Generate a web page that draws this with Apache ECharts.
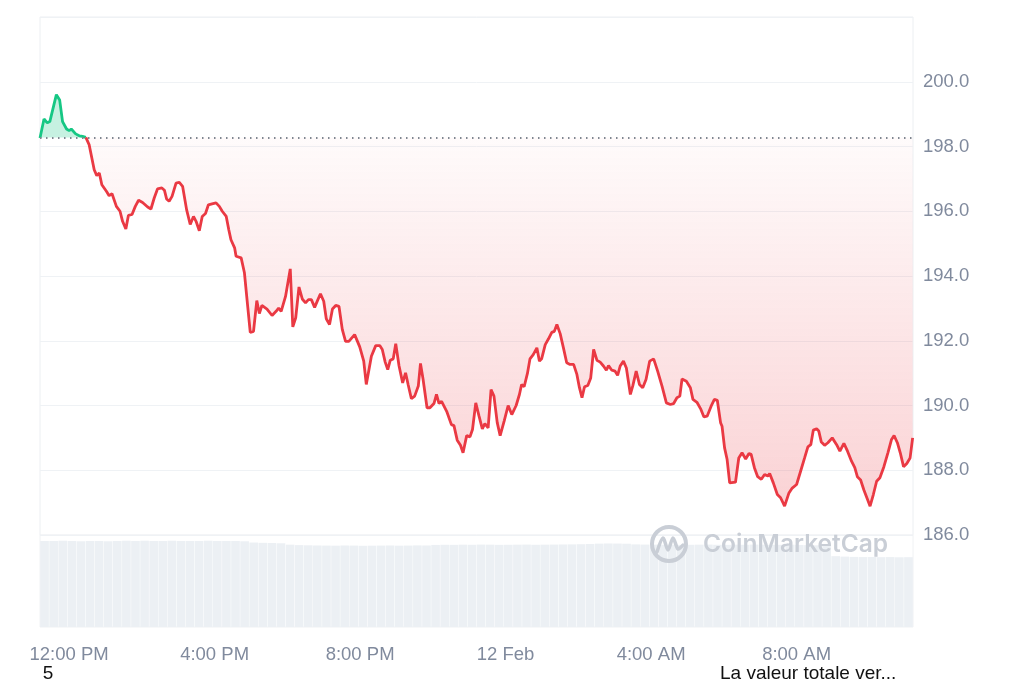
<!DOCTYPE html>
<html>
<head>
<meta charset="utf-8">
<script src="https://cdn.jsdelivr.net/npm/echarts@6/dist/echarts.min.js"></script>
<style>
html,body{margin:0;padding:0;background:#fff;}
#chart{width:1024px;height:683px;}
</style>
</head>
<body>
<div id="chart"></div>
<script>
// hours after 12:00 PM (11 Feb)
const priceTimes = [
-0.80,-0.69,-0.60,-0.53,-0.35,-0.26,-0.18,-0.07,0.00,0.06,0.18,0.28,0.37,0.46,
0.55,0.69,0.76,0.83,0.90,1.03,1.10,1.18,1.30,1.40,1.47,1.56,1.63,1.73,1.82,1.91,
2.02,2.16,2.25,2.34,2.43,2.55,2.62,2.68,2.75,2.83,2.94,3.03,3.12,3.23,3.33,3.42,
3.49,3.58,3.66,3.75,3.83,3.93,4.04,4.13,4.21,4.32,4.39,4.45,4.55,4.59,4.73,4.82,
4.91,4.98,5.07,5.16,5.23,5.30,5.44,5.58,5.69,5.76,5.83,5.95,6.08,6.15,6.23,6.32,
6.41,6.50,6.58,6.66,6.75,6.84,6.91,7.00,7.07,7.16,7.24,7.33,7.42,7.51,7.60,7.69,
7.85,7.99,8.10,8.17,8.31,8.43,8.54,8.61,8.69,8.76,8.83,8.91,8.98,9.07,9.17,9.25,
9.32,9.41,9.50,9.60,9.66,9.73,9.84,9.92,10.03,10.10,10.17,10.24,10.38,10.51,10.58,
10.67,10.76,10.83,10.93,11.02,11.09,11.18,11.27,11.36,11.43,11.52,11.60,11.68,11.77,
11.85,11.96,12.07,12.17,12.29,12.38,12.44,12.51,12.60,12.67,12.76,12.86,12.93,12.99,
13.09,13.18,13.27,13.34,13.41,13.50,13.59,13.68,13.77,13.87,13.96,14.03,14.10,14.17,
14.26,14.34,14.42,14.51,14.60,14.69,14.77,14.83,14.92,15.01,15.08,15.15,15.24,15.32,
15.43,15.50,15.59,15.68,15.77,15.86,15.96,16.07,16.18,16.30,16.42,16.53,16.62,16.71,
16.79,16.85,16.97,17.08,17.15,17.26,17.37,17.45,17.54,17.65,17.74,17.82,17.91,17.95,
18.02,18.09,18.16,18.32,18.41,18.50,18.60,18.69,18.75,18.84,18.93,19.03,19.12,19.21,
19.26,19.36,19.47,19.56,19.67,19.79,19.88,20.00,20.11,20.22,20.31,20.39,20.46,20.55,
20.61,20.68,20.77,20.86,20.98,21.10,21.19,21.30,21.40,21.51,21.60,21.67,21.76,21.85,
21.95,22.02,22.11,22.20,22.29,22.40,22.51,22.61,22.68,22.77,22.85,22.94,23.03,23.12,23.19
];
const priceValues = [
198.26,198.85,198.73,198.77,199.60,199.44,198.77,198.54,198.49,198.54,198.39,198.33,198.31,198.28,
198.06,197.28,197.10,197.18,196.82,196.61,196.48,196.54,196.15,196.00,195.69,195.45,195.87,195.90,196.15,196.34,
196.27,196.13,196.07,196.41,196.69,196.72,196.65,196.38,196.31,196.46,196.87,196.89,196.77,196.05,195.59,195.84,
195.69,195.40,195.84,195.93,196.20,196.23,196.26,196.15,196.00,195.84,195.43,195.12,194.87,194.61,194.56,194.10,
193.06,192.26,192.29,193.24,192.84,193.09,192.98,192.78,192.91,193.01,192.91,193.37,194.22,192.43,192.71,193.66,
193.29,193.17,193.27,193.27,193.03,193.27,193.45,193.22,192.68,192.50,192.98,193.09,193.06,192.35,191.98,191.98,
192.19,191.81,191.37,190.65,191.52,191.85,191.85,191.73,191.34,191.11,191.40,191.44,191.91,191.23,190.70,191.01,
190.65,190.21,190.29,190.60,191.30,190.82,189.93,189.93,190.06,190.34,190.06,190.13,189.82,189.41,189.38,
188.93,188.77,188.54,189.07,189.03,189.26,190.08,189.67,189.28,189.44,189.31,190.49,190.29,189.47,
189.07,189.52,190.00,189.72,190.00,190.34,190.65,190.58,190.99,191.44,191.57,191.78,191.37,191.44,
191.88,192.06,192.26,192.29,192.50,192.22,191.78,191.32,191.27,191.27,190.96,190.55,190.24,190.58,
190.62,190.85,191.73,191.40,191.34,191.22,191.09,191.23,191.09,191.06,190.93,191.22,191.37,191.16,
190.34,190.62,191.06,190.65,190.55,190.80,191.37,191.44,191.06,190.60,190.08,190.03,190.06,190.24,
190.29,190.82,190.75,190.55,190.19,190.10,189.88,189.65,189.67,189.98,190.19,190.16,189.47,189.36,
188.69,188.33,187.61,187.63,188.38,188.54,188.35,188.52,188.49,188.08,187.80,187.72,187.87,187.82,
187.90,187.61,187.25,187.15,186.89,187.30,187.45,187.56,187.97,188.38,188.72,188.79,189.24,189.28,
189.21,188.87,188.77,188.85,189.00,188.79,188.59,188.83,188.59,188.28,188.08,187.80,187.70,187.39,
187.10,186.89,187.25,187.66,187.77,188.11,188.54,188.95,189.07,188.85,188.54,188.11,188.21,188.38,189.00
];
const openPrice = 198.28;
const crossIndex = 13; // first index where price falls back to the open level

const volumeValues = [
93.6,93.4,93.7,93.5,93.3,93.6,93.4,93.2,
93.5,93.7,93.6,93.8,93.5,93.6,93.7,93.4,93.6,93.5,93.7,93.6,93.4,93.5,93.2,
91.8,91.5,91.3,91.0,
89.5,89.0,88.8,88.6,88.5,88.4,88.6,88.5,88.3,88.4,88.5,88.6,88.4,88.5,88.7,88.6,
89.2,89.4,89.3,89.5,89.4,89.6,89.5,89.3,89.4,89.5,89.6,89.4,89.5,89.6,89.7,89.8,90.0,90.2,
90.6,90.8,90.7,90.5,
89.8,89.6,89.5,89.4,89.5,89.3,89.4,89.5,89.6,89.4,89.3,89.5,89.4,89.6,89.5,89.3,89.4,89.5,89.2,89.0,88.8,88.5,
77.0,76.5,76.2,76.0,76.1,75.9,76.0,75.8,75.9
];
const volumeSlots = volumeValues.map((v, i) => 'slot' + i);

const xTickHours = [0, 4, 8, 12, 16, 20];
const xTickLabels = ['12:00 PM', '4:00 PM', '8:00 PM', '12 Feb', '4:00 AM', '8:00 AM'];
const xStart = -0.8, xEnd = 23.2;

const greenData = priceTimes.slice(0, crossIndex + 1).map((t, i) => [t, priceValues[i]]);
const redData = priceTimes.slice(crossIndex).map((t, i) => [t, priceValues[i + crossIndex]]);

const chart = echarts.init(document.getElementById('chart'), null, {renderer: 'canvas'});
const labelFont = {color: '#808a9d', fontSize: 18.5, fontFamily: 'Liberation Sans, Arial, sans-serif'};

chart.setOption({
  animation: false,
  grid: [
    {left: 40, right: 111, top: 17, bottom: 148, show: true, borderColor: '#eceff2', borderWidth: 1},
    {left: 40, right: 111, top: 535, bottom: 56, show: true, borderColor: '#f0f2f4', borderWidth: 1}
  ],
  xAxis: [
    {type: 'value', gridIndex: 0, min: xStart, max: xEnd, show: false},
    {type: 'category', gridIndex: 1, data: volumeSlots, show: false, boundaryGap: true},
    {type: 'value', gridIndex: 1, min: xStart, max: xEnd, position: 'bottom',
      axisLine: {show: false}, axisTick: {show: false}, splitLine: {show: false},
      axisLabel: Object.assign({
        customValues: xTickHours, margin: 18,
        formatter: v => { const i = xTickHours.indexOf(Math.round(v)); return i >= 0 ? xTickLabels[i] : ''; }
      }, labelFont)}
  ],
  yAxis: [
    {type: 'value', gridIndex: 0, position: 'right', min: 186, max: 202, interval: 2,
      axisLine: {show: false}, axisTick: {show: false},
      splitLine: {lineStyle: {color: '#eff2f5', width: 1}},
      axisLabel: Object.assign({margin: 10, showMaxLabel: false,
        formatter: v => v > 200.5 ? '' : v.toFixed(1)}, labelFont)},
    {type: 'value', gridIndex: 1, min: 0, max: 100, show: false}
  ],
  series: [
    {
      type: 'bar', xAxisIndex: 1, yAxisIndex: 1, data: volumeValues,
      barCategoryGap: '5%', itemStyle: {color: '#ecf0f4'}, silent: true, z: 1
    },
    {
      type: 'line', xAxisIndex: 0, yAxisIndex: 0, data: greenData,
      showSymbol: false, smooth: false,
      lineStyle: {color: '#16c784', width: 2.8},
      areaStyle: {origin: openPrice, color: 'rgba(22,199,132,0.35)'},
      z: 3
    },
    {
      type: 'line', xAxisIndex: 0, yAxisIndex: 0, data: redData,
      showSymbol: false, smooth: false,
      lineStyle: {color: '#ea3943', width: 2.8},
      areaStyle: {origin: openPrice, color: new echarts.graphic.LinearGradient(0, 0, 0, 1, [
        {offset: 0, color: 'rgba(234,57,67,0.03)'},
        {offset: 1, color: 'rgba(234,57,67,0.32)'}
      ])},
      markLine: {
        silent: true, symbol: 'none', label: {show: false},
        lineStyle: {color: '#7f8690', type: [1.5, 4.5], width: 1.8, opacity: 1},
        emphasis: {disabled: true},
        data: [{yAxis: openPrice}]
      },
      z: 3
    }
  ],
  graphic: [
    {type: 'circle', shape: {cx: 669, cy: 544, r: 17}, style: {fill: 'none', stroke: '#c9ced6', lineWidth: 4}, z: 10},
    {type: 'polyline', shape: {points: [[657, 552], [663, 538], [668, 550], [673, 538], [678, 549], [683, 545]], smooth: 0.3},
      style: {fill: 'none', stroke: '#c9ced6', lineWidth: 3.5, lineCap: 'round', lineJoin: 'round'}, z: 10},
    {type: 'text', x: 703, y: 545, style: {text: 'CoinMarketCap', fill: '#c9ced6', font: '600 24.5px Inter, Noto Sans, sans-serif', textVerticalAlign: 'middle'}, z: 10},
    {type: 'text', x: 48, y: 674, style: {text: '5', fill: '#111', font: '19px Liberation Sans, Arial, sans-serif', textAlign: 'center', textVerticalAlign: 'middle'}},
    {type: 'text', x: 720, y: 674, style: {text: 'La valeur totale ver...', fill: '#111', font: '19px Liberation Sans, Arial, sans-serif', textVerticalAlign: 'middle'}}
  ]
});
</script>
</body>
</html>
